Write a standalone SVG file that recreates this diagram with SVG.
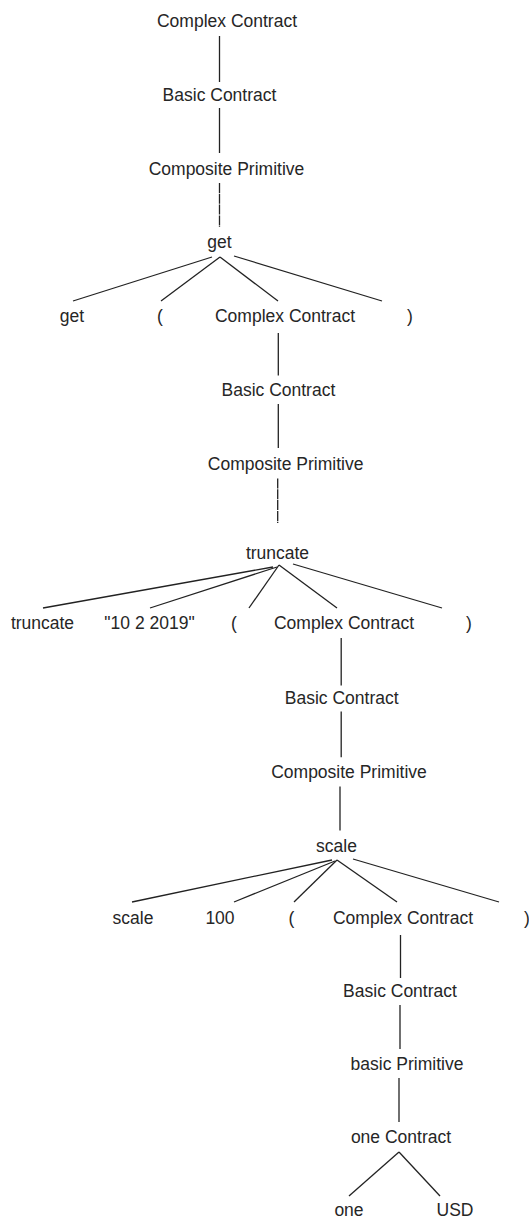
<svg xmlns="http://www.w3.org/2000/svg" width="529" height="1220" viewBox="0 0 529 1220">
  <style>
    .lbl { font-family: "Liberation Sans", Arial, sans-serif; font-size: 17.5px; fill: #262626; text-anchor: middle; }
    .edge { stroke: #222; stroke-width: 1.3; fill: none; }
    .dash { stroke-dasharray: 10 0.8; }
  </style>
  <rect width="529" height="1220" fill="#fff"/>

  <!-- parse tree edges -->
  <g id="connectors">
    <!-- level 1 -->
    <line class="edge" x1="219.5" y1="36" x2="219.5" y2="82"/>
    <line class="edge" x1="219.5" y1="108" x2="219.5" y2="153"/>
    <line class="edge dash" x1="219.5" y1="183" x2="219.5" y2="227"/>
    <line class="edge" x1="212" y1="257" x2="73" y2="301"/>
    <line class="edge" x1="220" y1="257" x2="161" y2="301"/>
    <line class="edge" x1="220" y1="257" x2="278" y2="301"/>
    <line class="edge" x1="234" y1="256" x2="382" y2="301"/>
    <!-- level 2 -->
    <line class="edge" x1="278.3" y1="333" x2="278.3" y2="375.5"/>
    <line class="edge" x1="278.3" y1="404" x2="278.3" y2="448"/>
    <line class="edge dash" x1="277.7" y1="478.5" x2="277.7" y2="523"/>
    <line class="edge" x1="273" y1="567" x2="43" y2="608"/>
    <line class="edge" x1="277" y1="567" x2="150" y2="608"/>
    <line class="edge" x1="279" y1="565" x2="249" y2="608"/>
    <line class="edge" x1="279" y1="565" x2="337" y2="608"/>
    <line class="edge" x1="293" y1="564" x2="442" y2="608"/>
    <!-- level 3 -->
    <line class="edge" x1="341.2" y1="638" x2="341.2" y2="685.4"/>
    <line class="edge" x1="341.2" y1="711.4" x2="341.2" y2="757.3"/>
    <line class="edge" x1="340" y1="786.6" x2="340" y2="830.5"/>
    <line class="edge" x1="332" y1="860" x2="132" y2="902"/>
    <line class="edge" x1="335" y1="861" x2="234" y2="902"/>
    <line class="edge" x1="337" y1="860" x2="294" y2="902"/>
    <line class="edge" x1="337" y1="860" x2="397" y2="902"/>
    <line class="edge" x1="353" y1="859" x2="499" y2="902"/>
    <!-- level 4 -->
    <line class="edge" x1="400.5" y1="935" x2="400.5" y2="978"/>
    <line class="edge" x1="400" y1="1005" x2="400" y2="1049"/>
    <line class="edge" x1="399" y1="1078" x2="399" y2="1122"/>
    <line class="edge" x1="399" y1="1152" x2="349" y2="1196"/>
    <line class="edge" x1="399" y1="1152" x2="440" y2="1196"/>
  </g>

  <!-- level 1 nodes -->
  <g id="n-complex-1"><text class="lbl" x="227" y="27">Complex Contract</text></g>
  <g id="n-basic-1"><text class="lbl" x="219.5" y="101">Basic Contract</text></g>
  <g id="n-composite-1"><text class="lbl" x="226.5" y="175">Composite Primitive</text></g>
  <g id="n-get"><text class="lbl" x="219.5" y="248">get</text></g>
  <g id="n-get-kw"><text class="lbl" x="72" y="322">get</text></g>
  <g id="n-get-lp"><text class="lbl" x="160" y="322">(</text></g>
  <g id="n-complex-2"><text class="lbl" x="285" y="322">Complex Contract</text></g>
  <g id="n-get-rp"><text class="lbl" x="410" y="322">)</text></g>

  <!-- level 2 nodes -->
  <g id="n-basic-2"><text class="lbl" x="278.4" y="396">Basic Contract</text></g>
  <g id="n-composite-2"><text class="lbl" x="285.6" y="470">Composite Primitive</text></g>
  <g id="n-truncate"><text class="lbl" x="277.5" y="559">truncate</text></g>
  <g id="n-truncate-kw"><text class="lbl" x="42.5" y="629">truncate</text></g>
  <g id="n-date"><text class="lbl" x="149.5" y="629">"10 2 2019"</text></g>
  <g id="n-truncate-lp"><text class="lbl" x="234" y="629">(</text></g>
  <g id="n-complex-3"><text class="lbl" x="344" y="629">Complex Contract</text></g>
  <g id="n-truncate-rp"><text class="lbl" x="469" y="629">)</text></g>

  <!-- level 3 nodes -->
  <g id="n-basic-3"><text class="lbl" x="341.7" y="704">Basic Contract</text></g>
  <g id="n-composite-3"><text class="lbl" x="349" y="778">Composite Primitive</text></g>
  <g id="n-scale"><text class="lbl" x="336.5" y="852">scale</text></g>
  <g id="n-scale-kw"><text class="lbl" x="133" y="924">scale</text></g>
  <g id="n-amount"><text class="lbl" x="220" y="924">100</text></g>
  <g id="n-scale-lp"><text class="lbl" x="291.5" y="924">(</text></g>
  <g id="n-complex-4"><text class="lbl" x="403" y="924">Complex Contract</text></g>
  <g id="n-scale-rp"><text class="lbl" x="527" y="924">)</text></g>

  <!-- level 4 nodes -->
  <g id="n-basic-4"><text class="lbl" x="400" y="997">Basic Contract</text></g>
  <g id="n-basic-prim"><text class="lbl" x="407" y="1070">basic Primitive</text></g>
  <g id="n-one-contract"><text class="lbl" x="401" y="1143">one Contract</text></g>
  <g id="n-one"><text class="lbl" x="349" y="1216">one</text></g>
  <g id="n-usd"><text class="lbl" x="455" y="1216">USD</text></g>
</svg>
